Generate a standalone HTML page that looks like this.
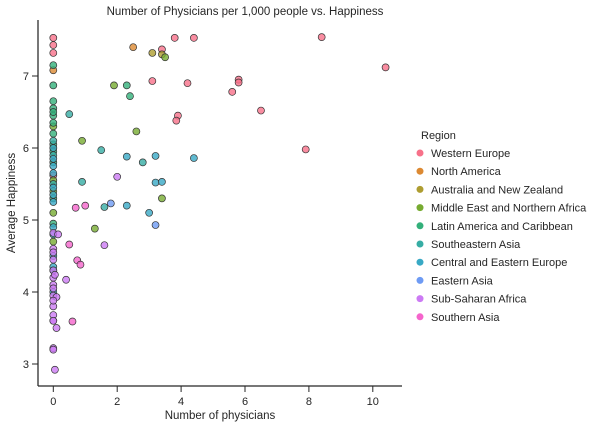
<!DOCTYPE html>
<html><head><meta charset="utf-8"><style>
body{margin:0;background:#fff;font-family:"Liberation Sans",sans-serif}
svg text{font-family:"Liberation Sans",sans-serif;fill:#262626}
</style></head><body>
<svg id="chart" width="604" height="428"></svg>
<script>
const regions=["Western Europe","North America","Australia and New Zealand","Middle East and Northern Africa","Latin America and Caribbean","Southeastern Asia","Central and Eastern Europe","Eastern Asia","Sub-Saharan Africa","Southern Asia"];
const colors=['#f77189','#dc8932','#ae9d31','#77ab31','#33b07a','#36ada4','#38a9c5','#6e9bf4','#cc7af4','#f565cc'];
const physicians=[0,0,0,3.4,3.8,4.4,8.4,10.4,3.1,4.2,5.8,5.8,5.6,6.5,3.9,3.85,7.9,0,
0,2.5,
3.1,3.4,
3.5,1.9,2.6,0.9,3.4,1.3,0,0,0,0,0,0,
0,0,2.3,2.4,0,0,0,0,0,0,0,0,0,0,0,
0.5,1.5,0.9,1.6,2.8,0,0,0,0,
2.3,3.2,4.4,3.2,3.4,3.0,2.3,0,0,0,0,0,0,0,0,0,0,0,0,
1.8,3.2,
2.0,1.6,0.4,0.1,0,0,0,0,0,0,0,0,0,0,0,0,0.05,0.15,0.05,0.1,0,0,0,0,
0.7,1.0,0.5,0.75,0.85,0.6];
const happiness=[7.53,7.43,7.32,7.37,7.53,7.53,7.54,7.12,6.93,6.9,6.95,6.91,6.78,6.52,6.45,6.38,5.98,5.62,
7.08,7.4,
7.32,7.3,
7.26,6.87,6.23,6.1,5.3,4.88,6.0,5.55,5.1,4.7,6.3,5.4,
7.15,6.87,6.87,6.72,6.65,6.55,6.45,6.35,6.2,6.05,5.8,5.3,4.95,6.5,5.95,
6.47,5.97,5.53,5.18,5.8,6.1,5.5,4.3,5.9,
5.88,5.89,5.86,5.52,5.53,5.1,5.2,6.0,5.85,5.75,5.45,5.25,4.9,4.5,4.35,4.0,5.65,5.35,4.8,
5.23,4.93,
5.6,4.65,4.17,3.5,4.82,4.6,4.45,4.3,4.2,4.1,3.95,3.8,3.68,3.6,3.22,3.2,2.92,4.8,4.24,3.93,3.6,4.55,4.05,3.88,
5.17,5.2,4.66,4.44,4.38,3.59];
const regionIdx=[0,0,0,0,0,0,0,0,0,0,0,0,0,0,0,0,0,0,
1,1,2,2,
3,3,3,3,3,3,3,3,3,3,3,3,
4,4,4,4,4,4,4,4,4,4,4,4,4,4,4,
5,5,5,5,5,5,5,5,5,
6,6,6,6,6,6,6,6,6,6,6,6,6,6,6,6,6,6,6,
7,7,
8,8,8,8,8,8,8,8,8,8,8,8,8,8,8,8,8,8,8,8,8,8,8,8,
9,9,9,9,9,9];
const xTicks=[0,2,4,6,8,10];
const yTicks=[3,4,5,6,7];
const NS='http://www.w3.org/2000/svg';
const svg=document.getElementById('chart');
const X=v=>53.3+v*31.95;
const Y=v=>76+(7-v)*72;
function el(t,a,p){const e=document.createElementNS(NS,t);for(const k in a)e.setAttribute(k,a[k]);(p||svg).appendChild(e);return e;}
const ax=el('g',{});


el('line',{x1:38,y1:20,x2:38,y2:386,stroke:'#262626','stroke-width':1.25},ax);
el('line',{x1:38,y1:386,x2:402,y2:386,stroke:'#262626','stroke-width':1.25},ax);
xTicks.forEach(t=>{el('line',{x1:X(t),y1:386,x2:X(t),y2:392,stroke:'#262626'},ax);
const tx=el('text',{x:X(t),y:405,'font-size':11,'text-anchor':'middle'},ax);tx.textContent=t;

});
yTicks.forEach(t=>{el('line',{x1:32,y1:Y(t),x2:38,y2:Y(t),stroke:'#262626'},ax);
const tx=el('text',{x:29,y:Y(t)+4,'font-size':11,'text-anchor':'end'},ax);tx.textContent=t;

});
const pts=el('g',{});


for(let i=0;i<physicians.length;i++){
const c=el('circle',{cx:X(physicians[i]),cy:Y(happiness[i]),r:3.5,fill:colors[regionIdx[i]],'fill-opacity':0.8,stroke:'#333','stroke-width':0.7},pts);

}
const lg=el('g',{});


const lt=el('text',{x:421,y:139,'font-size':11},lg);lt.textContent='Region';


regions.forEach((r,i)=>{const y=157+i*18.2;
el('circle',{cx:420,cy:y-4,r:3.5,fill:colors[i]},lg);
const t=el('text',{x:431,y:y,'font-size':11},lg);t.textContent=r;

});
const tt=el('text',{x:245,y:15,'font-size':11.5,'text-anchor':'middle'});tt.textContent='Number of Physicians per 1,000 people vs. Happiness';


const xt=el('text',{x:220,y:419,'font-size':11.5,'text-anchor':'middle'});xt.textContent='Number of physicians';


const yt=el('text',{x:0,y:0,'font-size':11.5,'text-anchor':'middle',transform:'translate(15,203) rotate(-90)'});yt.textContent='Average Happiness';


</script>
</body></html>
